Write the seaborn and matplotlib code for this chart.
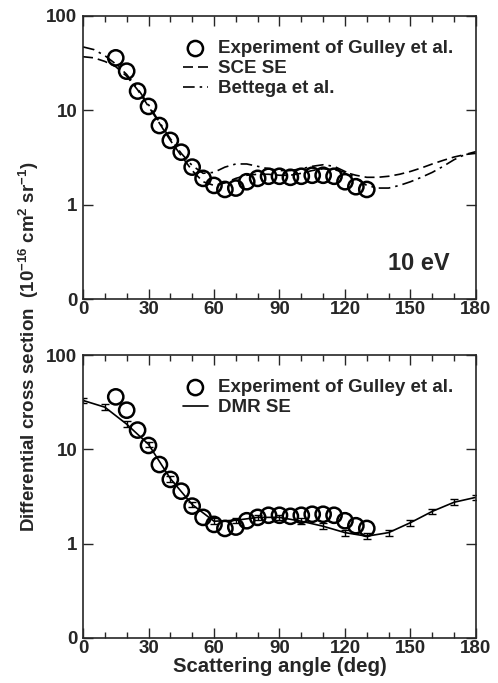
import numpy as np
import pandas as pd
import matplotlib
matplotlib.use("Agg")
import matplotlib.pyplot as plt
import seaborn as sns
from matplotlib.ticker import FixedLocator, MultipleLocator, NullLocator

sns.set_style("ticks")
plt.rcParams['font.family'] = ['Liberation Sans', 'DejaVu Sans']
plt.rcParams['mathtext.fontset'] = 'custom'
plt.rcParams['mathtext.rm'] = 'Liberation Sans:bold'
plt.rcParams['mathtext.default'] = 'rm'

# Experiment of Gulley et al.
exp_angle = [15, 20, 25, 30, 35, 40, 45, 50, 55, 60, 65, 70, 75, 80, 85, 90, 95,
             100, 105, 110, 115, 120, 125, 130]
exp_dcs = [36, 26, 16, 11, 6.9, 4.8, 3.6, 2.5, 1.9, 1.6, 1.45, 1.5, 1.75, 1.9, 2.0, 2.0, 1.95,
           2.0, 2.05, 2.05, 2.0, 1.75, 1.55, 1.45]

# SCE SE and Bettega et al. (10 eV)
th_angle = list(range(0, 181, 5))
sce_dcs = [37, 36, 33, 29, 23, 16.5, 11, 7.3, 4.8, 3.3, 2.3, 1.75, 1.6, 1.7, 1.9, 2.05, 2.1, 2.1,
           2.05, 2.05, 2.15, 2.3, 2.4, 2.35, 2.2, 2.05, 1.95, 1.95, 2.0, 2.1, 2.25, 2.45, 2.7,
           2.95, 3.2, 3.4, 3.5]
bet_dcs = [47, 44, 38, 31, 24, 17, 11.5, 7.5, 5.0, 3.5, 2.6, 2.15, 2.2, 2.5, 2.7, 2.7, 2.55, 2.4,
           2.3, 2.3, 2.4, 2.55, 2.65, 2.55, 2.25, 1.9, 1.6, 1.5, 1.5, 1.6, 1.75, 1.95, 2.2,
           2.55, 3.0, 3.4, 3.65]

# DMR SE with error bars
dmr_angle = list(range(0, 181, 10))
dmr_dcs = [33, 28, 18.5, 11.3, 4.9, 2.6, 1.73, 1.77, 1.9, 1.9, 1.73, 1.53, 1.31, 1.2, 1.31,
           1.67, 2.2, 2.75, 3.1]
dmr_err = [0.07 * v for v in dmr_dcs]

ytick_vals = [0.1, 1, 10, 100]
ytick_labels = ["0", "1", "10", "100"]
xtick_vals = [0, 30, 60, 90, 120, 150, 180]

exp_df = pd.DataFrame({"angle": exp_angle, "dcs": exp_dcs})
th_df = pd.DataFrame({"angle": th_angle, "SCE SE": sce_dcs, "Bettega et al.": bet_dcs})
dmr_df = pd.DataFrame({"angle": dmr_angle, "dcs": dmr_dcs, "err": dmr_err})

fig = plt.figure(figsize=(4.98, 6.83), dpi=100)
ax1 = fig.add_axes([0.1667, 0.5622, 0.789, 0.4144])
ax2 = fig.add_axes([0.1667, 0.0659, 0.789, 0.4143])

fs_tick = 13.5

def style(ax):
    ax.set_yscale('log')
    ax.set_xlim(0, 180)
    ax.set_ylim(0.1, 100)
    ax.yaxis.set_major_locator(FixedLocator(ytick_vals))
    ax.yaxis.set_minor_locator(NullLocator())
    ax.set_yticklabels(ytick_labels)
    ax.xaxis.set_major_locator(FixedLocator(xtick_vals))
    ax.xaxis.set_minor_locator(MultipleLocator(10))
    ax.tick_params(which='both', direction='in', top=True, right=True, width=1.0)
    ax.tick_params(which='major', length=7, labelsize=fs_tick)
    ax.tick_params(axis='x', which='major', pad=1.5)
    ax.tick_params(axis='y', which='major', pad=4)
    ax.tick_params(which='minor', length=4)
    for lab in ax.get_xticklabels() + ax.get_yticklabels():
        lab.set_fontweight('bold')
    for s in ax.spines.values():
        s.set_linewidth(1.2)
    ax.set_xlabel("")
    ax.set_ylabel("")

leg_kw = dict(loc='upper left', frameon=False, prop={'weight': 'bold', 'size': 13.5},
              handlelength=1.3, handletextpad=0.55, labelspacing=0.15,
              borderpad=0, borderaxespad=0)

# Top panel
sns.scatterplot(data=exp_df, x="angle", y="dcs", ax=ax1, marker='o', s=120,
                facecolor='none', edgecolor='black', linewidth=1.8,
                label="Experiment of Gulley et al.", zorder=3)
sns.lineplot(data=th_df, x="angle", y="SCE SE", ax=ax1, color='black', lw=1.2,
             linestyle=(0, (6, 3)), label="SCE SE")
sns.lineplot(data=th_df, x="angle", y="Bettega et al.", ax=ax1, color='black', lw=1.2,
             linestyle=(0, (7, 3, 1.5, 3)), label="Bettega et al.")
style(ax1)
ax1.legend(bbox_to_anchor=(0.255, 0.914), **leg_kw)
ax1.text(0.934, 0.127, "10 eV", transform=ax1.transAxes, ha='right', va='center',
         fontsize=17, fontweight='bold')

# Bottom panel
sns.scatterplot(data=exp_df, x="angle", y="dcs", ax=ax2, marker='o', s=120,
                facecolor='none', edgecolor='black', linewidth=1.8,
                label="Experiment of Gulley et al.", zorder=3)
sns.lineplot(data=dmr_df, x="angle", y="dcs", ax=ax2, color='black', lw=1.2,
             label="DMR SE")
ax2.errorbar(dmr_df["angle"], dmr_df["dcs"], yerr=dmr_df["err"], fmt='none',
             ecolor='black', elinewidth=1.0, capsize=3, capthick=1.0, zorder=2)
style(ax2)
ax2.legend(bbox_to_anchor=(0.255, 0.914), **leg_kw)
ax2.set_xlabel("Scattering angle (deg)", fontsize=14.7, fontweight='bold', labelpad=0)

fig.text(0.058, 0.493, r"Differential cross section  (10$^{-16}$ cm$^{2}$ sr$^{-1}$)",
         rotation=90, ha='center', va='center', fontsize=13.5, fontweight='bold')

fig.savefig("out.png", dpi=100)
